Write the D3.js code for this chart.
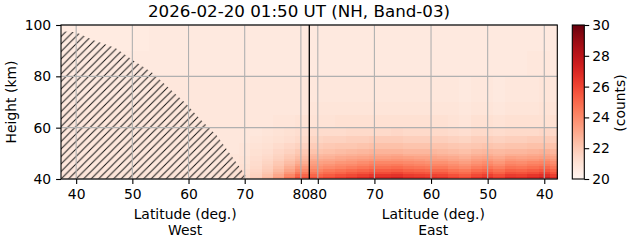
<!DOCTYPE html>
<html>
<head>
<meta charset="utf-8">
<script src="https://cdn.jsdelivr.net/npm/d3@7/dist/d3.min.js"></script>
<style>
  body { margin: 0; background: #fff; }
  text { font-family: "DejaVu Sans", sans-serif; fill: #000; }
</style>
</head>
<body>
<svg id="chart" width="631" height="243"></svg>
<script>
// latitude bin edges, left to right on the plot
const latEdgesWest = [37.3, 39, 41, 43, 45, 47, 49, 51, 53, 55, 57, 59, 61, 63, 65, 67, 69, 71, 73, 75, 77, 79, 81.5]
const latEdgesEast = [81.5, 79, 77, 75, 73, 71, 69, 67, 65, 63, 61, 59, 57, 55, 53, 51, 49, 47, 45, 43, 41, 39, 37.7]
// height bin edges (km), bottom to top
const heightEdges = [40, 41, 42, 43, 44, 45, 46, 47, 48, 49, 50, 52, 54, 57, 60, 65, 70, 80, 90, 100]

// counts per height row (bottom first), one value per latitude bin
const countsWest = [
  [20.9, 20.9, 20.9, 20.9, 20.9, 20.9, 20.9, 20.9, 20.9, 20.9, 20.9, 20.9, 20.9, 20.9, 21.0, 21.1, 21.4, 21.9, 22.6, 23.5, 24.7, 25.8],
  [20.9, 20.9, 20.9, 20.9, 20.9, 20.9, 20.9, 20.9, 20.9, 20.9, 20.9, 20.9, 20.9, 20.9, 21.0, 21.1, 21.3, 21.7, 22.3, 23.1, 24.1, 25.1],
  [20.9, 20.9, 20.9, 20.9, 20.9, 20.9, 20.9, 20.9, 20.9, 20.9, 20.9, 20.9, 20.9, 20.9, 20.9, 21.0, 21.2, 21.6, 22.1, 22.8, 23.6, 24.5],
  [20.8, 20.8, 20.8, 20.8, 20.8, 20.8, 20.8, 20.8, 20.8, 20.8, 20.8, 20.8, 20.8, 20.8, 20.9, 21.0, 21.2, 21.5, 21.9, 22.5, 23.2, 24.0],
  [20.8, 20.8, 20.8, 20.8, 20.8, 20.8, 20.8, 20.8, 20.8, 20.8, 20.8, 20.8, 20.8, 20.8, 20.9, 21.0, 21.1, 21.4, 21.8, 22.3, 22.9, 23.6],
  [20.8, 20.8, 20.8, 20.8, 20.8, 20.8, 20.8, 20.8, 20.8, 20.8, 20.8, 20.8, 20.8, 20.8, 20.9, 20.9, 21.1, 21.3, 21.7, 22.1, 22.6, 23.2],
  [20.8, 20.8, 20.8, 20.8, 20.8, 20.8, 20.8, 20.8, 20.8, 20.8, 20.8, 20.8, 20.8, 20.8, 20.8, 20.9, 21.0, 21.3, 21.6, 22.0, 22.4, 22.9],
  [20.8, 20.8, 20.8, 20.8, 20.8, 20.8, 20.8, 20.8, 20.8, 20.8, 20.8, 20.8, 20.8, 20.8, 20.8, 20.9, 21.0, 21.2, 21.5, 21.8, 22.2, 22.6],
  [20.8, 20.8, 20.8, 20.8, 20.8, 20.8, 20.8, 20.8, 20.8, 20.8, 20.8, 20.8, 20.8, 20.8, 20.8, 20.9, 21.0, 21.2, 21.4, 21.7, 22.0, 22.4],
  [20.8, 20.8, 20.8, 20.8, 20.8, 20.8, 20.8, 20.8, 20.8, 20.8, 20.8, 20.8, 20.8, 20.8, 20.8, 20.9, 20.9, 21.1, 21.3, 21.6, 21.9, 22.2],
  [20.8, 20.8, 20.8, 20.8, 20.8, 20.8, 20.8, 20.8, 20.8, 20.8, 20.8, 20.8, 20.8, 20.8, 20.8, 20.8, 20.9, 21.1, 21.2, 21.5, 21.7, 22.0],
  [20.8, 20.8, 20.8, 20.8, 20.8, 20.8, 20.8, 20.8, 20.8, 20.8, 20.8, 20.8, 20.8, 20.8, 20.8, 20.8, 20.9, 21.0, 21.1, 21.3, 21.5, 21.7],
  [20.8, 20.8, 20.8, 20.8, 20.8, 20.8, 20.8, 20.8, 20.8, 20.8, 20.8, 20.8, 20.8, 20.8, 20.8, 20.8, 20.8, 20.9, 21.0, 21.1, 21.2, 21.4],
  [20.8, 20.8, 20.8, 20.8, 20.8, 20.8, 20.8, 20.8, 20.8, 20.8, 20.8, 20.8, 20.8, 20.8, 20.8, 20.8, 20.8, 20.8, 20.9, 21.0, 21.1, 21.2],
  [20.8, 20.8, 20.8, 20.8, 20.8, 20.8, 20.8, 20.8, 20.8, 20.8, 20.8, 20.8, 20.8, 20.8, 20.8, 20.8, 20.8, 20.8, 20.8, 20.9, 20.9, 21.0],
  [20.8, 20.8, 20.8, 20.8, 20.8, 20.8, 20.8, 20.8, 20.8, 20.8, 20.8, 20.8, 20.8, 20.8, 20.8, 20.8, 20.8, 20.8, 20.8, 20.8, 20.8, 20.8],
  [20.7, 20.7, 20.7, 20.7, 20.7, 20.7, 20.7, 20.7, 20.8, 20.8, 20.8, 20.8, 20.8, 20.8, 20.8, 20.8, 20.8, 20.8, 20.8, 20.8, 20.8, 20.8],
  [20.7, 20.7, 20.7, 20.7, 20.7, 20.7, 20.7, 20.7, 20.7, 20.7, 20.7, 20.7, 20.7, 20.7, 20.7, 20.7, 20.7, 20.7, 20.7, 20.7, 20.7, 20.7],
  [20.6, 20.6, 20.6, 20.6, 20.6, 20.6, 20.6, 20.6, 20.7, 20.7, 20.7, 20.7, 20.7, 20.7, 20.7, 20.7, 20.7, 20.7, 20.7, 20.7, 20.7, 20.7]
]

const countsEast = [
  [25.8, 26.1, 26.4, 26.7, 27.0, 27.3, 27.3, 27.5, 27.1, 27.0, 26.9, 26.8, 26.4, 26.1, 26.7, 27.0, 26.5, 27.1, 27.0, 27.3, 27.6, 27.0],
  [25.1, 25.4, 25.7, 25.9, 26.2, 26.5, 26.5, 26.6, 26.3, 26.2, 26.1, 26.0, 25.7, 25.4, 25.9, 26.2, 25.8, 26.3, 26.2, 26.5, 26.7, 26.2],
  [24.6, 24.9, 25.1, 25.4, 25.6, 25.8, 25.8, 26.0, 25.7, 25.6, 25.5, 25.5, 25.1, 24.9, 25.4, 25.6, 25.2, 25.7, 25.6, 25.8, 26.1, 25.6],
  [24.2, 24.5, 24.7, 24.9, 25.1, 25.3, 25.3, 25.4, 25.2, 25.1, 25.0, 25.0, 24.7, 24.5, 24.9, 25.1, 24.8, 25.2, 25.1, 25.3, 25.5, 25.1],
  [23.8, 24.0, 24.2, 24.4, 24.6, 24.8, 24.8, 24.9, 24.7, 24.6, 24.5, 24.5, 24.2, 24.0, 24.4, 24.6, 24.3, 24.7, 24.6, 24.8, 25.0, 24.6],
  [23.5, 23.7, 23.9, 24.0, 24.2, 24.4, 24.4, 24.5, 24.3, 24.2, 24.1, 24.1, 23.9, 23.7, 24.0, 24.2, 23.9, 24.3, 24.2, 24.4, 24.5, 24.2],
  [23.3, 23.4, 23.6, 23.7, 23.9, 24.1, 24.1, 24.1, 24.0, 23.9, 23.8, 23.8, 23.6, 23.4, 23.7, 23.9, 23.6, 24.0, 23.9, 24.1, 24.2, 23.9],
  [23.0, 23.1, 23.2, 23.4, 23.5, 23.6, 23.6, 23.7, 23.6, 23.5, 23.4, 23.4, 23.2, 23.1, 23.4, 23.5, 23.3, 23.6, 23.5, 23.6, 23.8, 23.5],
  [22.7, 22.8, 23.0, 23.1, 23.2, 23.3, 23.3, 23.4, 23.3, 23.2, 23.2, 23.1, 23.0, 22.8, 23.1, 23.2, 23.0, 23.3, 23.2, 23.3, 23.4, 23.2],
  [22.5, 22.6, 22.7, 22.8, 22.9, 23.0, 23.0, 23.1, 22.9, 22.9, 22.9, 22.8, 22.7, 22.6, 22.8, 22.9, 22.7, 22.9, 22.9, 23.0, 23.1, 22.9],
  [22.2, 22.3, 22.4, 22.5, 22.6, 22.7, 22.7, 22.7, 22.6, 22.6, 22.6, 22.5, 22.4, 22.3, 22.5, 22.6, 22.5, 22.6, 22.6, 22.7, 22.8, 22.6],
  [21.9, 22.0, 22.1, 22.1, 22.2, 22.3, 22.3, 22.3, 22.2, 22.2, 22.2, 22.2, 22.1, 22.0, 22.1, 22.2, 22.1, 22.2, 22.2, 22.3, 22.3, 22.2],
  [21.6, 21.7, 21.7, 21.8, 21.8, 21.9, 21.9, 21.9, 21.8, 21.8, 21.8, 21.8, 21.7, 21.6, 21.8, 21.8, 21.7, 21.8, 21.8, 21.9, 21.9, 21.8],
  [21.3, 21.3, 21.3, 21.4, 21.4, 21.4, 21.4, 21.5, 21.4, 21.4, 21.4, 21.4, 21.3, 21.2, 21.4, 21.4, 21.3, 21.4, 21.4, 21.4, 21.5, 21.4],
  [21.0, 21.0, 21.1, 21.1, 21.1, 21.1, 21.1, 21.1, 21.1, 21.1, 21.1, 21.1, 21.0, 20.9, 21.1, 21.1, 21.0, 21.1, 21.1, 21.1, 21.1, 21.1],
  [20.9, 20.9, 20.9, 20.9, 20.9, 20.9, 20.9, 20.9, 20.9, 20.9, 20.9, 20.9, 20.9, 20.8, 20.9, 20.9, 20.8, 20.9, 20.9, 20.9, 21.0, 20.9],
  [20.8, 20.8, 20.8, 20.8, 20.8, 20.8, 20.8, 20.8, 20.8, 20.8, 20.8, 20.8, 20.8, 20.7, 20.8, 20.8, 20.7, 20.8, 20.8, 20.8, 20.9, 20.8],
  [20.7, 20.7, 20.7, 20.7, 20.7, 20.7, 20.7, 20.7, 20.7, 20.7, 20.7, 20.7, 20.7, 20.7, 20.7, 20.7, 20.7, 20.7, 20.7, 20.8, 20.8, 20.7],
  [20.7, 20.7, 20.7, 20.7, 20.7, 20.7, 20.7, 20.7, 20.7, 20.7, 20.7, 20.7, 20.7, 20.7, 20.7, 20.7, 20.7, 20.7, 20.7, 20.7, 20.7, 20.7]
]

// upper edge of the hatched (no data) region on the west side
const hatchLat = [37.3, 40, 43, 47, 50, 53.5, 57, 59.5, 62, 65, 68, 70.6]
const hatchTop = [97.6, 97.2, 94.2, 91, 86.5, 81.5, 74.5, 69.5, 63.5, 57, 48, 40]

const poleLat = 81.5
const latTicks = [40, 50, 60, 70, 80]
const heightTicks = [40, 60, 80, 100]
const countTicks = [20, 22, 24, 26, 28, 30]

const svg = d3.select('#chart')
const plotL = 61, plotR = 557.3, plotT = 25, plotB = 179
const poleX = 309.3
const fs = '13.9px'

const xWest = d3.scaleLinear().domain([37.3, poleLat]).range([plotL, poleX])
const xEast = d3.scaleLinear().domain([poleLat, 37.7]).range([poleX, plotR])
const y = d3.scaleLinear().domain([40, 100]).range([plotB, plotT])
const color = d3.scaleSequential(d3.interpolateReds).domain([20, 30])

svg.append('rect').attr('width', 631).attr('height', 243).attr('fill', '#fff')

// heatmap cells
function cells(edges, rows, x) {
  const out = []
  rows.forEach((row, i) => {
    row.forEach((v, j) => {
      out.push({ x0: x(edges[j]), x1: x(edges[j + 1]), h0: heightEdges[i], h1: heightEdges[i + 1], v })
    })
  })
  return out
}
const allCells = cells(latEdgesWest, countsWest, xWest).concat(cells(latEdgesEast, countsEast, xEast))

svg.append('g')
  .selectAll('rect')
  .data(allCells)
  .join('rect')
  .attr('x', d => Math.min(d.x0, d.x1))
  .attr('width', d => Math.abs(d.x1 - d.x0) + 0.3)
  .attr('y', d => y(d.h1))
  .attr('height', d => y(d.h0) - y(d.h1) + 0.3)
  .attr('fill', d => color(d.v))
  .attr('shape-rendering', 'crispEdges')

// hatch pattern
const defs = svg.append('defs')
const hw = 7.5
defs.append('pattern')
  .attr('id', 'hatch')
  .attr('patternUnits', 'userSpaceOnUse')
  .attr('width', hw)
  .attr('height', hw)
  .append('path')
  .attr('d', `M0,${hw}L${hw},0M${-hw / 2},${hw / 2}L${hw / 2},${-hw / 2}M${hw / 2},${hw * 1.5}L${hw * 1.5},${hw / 2}`)
  .attr('stroke', '#111')
  .attr('stroke-width', 0.95)

defs.append('clipPath').attr('id', 'plotclip')
  .append('rect').attr('x', plotL).attr('y', plotT).attr('width', plotR - plotL).attr('height', plotB - plotT)

const hatchArea = d3.area()
  .x(d => xWest(d[0]))
  .y0(y(40))
  .y1(d => y(d[1]))

svg.append('path')
  .datum(d3.zip(hatchLat, hatchTop))
  .attr('d', hatchArea)
  .attr('fill', 'url(#hatch)')
  .attr('clip-path', 'url(#plotclip)')

// grid
const grid = svg.append('g').attr('stroke', '#b0b0b0').attr('stroke-width', 1.1)
latTicks.forEach(t => {
  ;[xWest(t), xEast(t)].forEach(gx => {
    grid.append('line').attr('x1', gx).attr('x2', gx).attr('y1', plotT).attr('y2', plotB)
  })
})
heightTicks.forEach(t => {
  grid.append('line').attr('x1', plotL).attr('x2', plotR).attr('y1', y(t)).attr('y2', y(t))
})

// pole line
svg.append('line')
  .attr('x1', poleX).attr('x2', poleX).attr('y1', plotT).attr('y2', plotB)
  .attr('stroke', '#000').attr('stroke-width', 1.3)

// frame
svg.append('rect')
  .attr('x', plotL).attr('y', plotT).attr('width', plotR - plotL).attr('height', plotB - plotT)
  .attr('fill', 'none').attr('stroke', '#000').attr('stroke-width', 1.1)

function styleAxis(g) {
  g.select('.domain').remove()
  g.selectAll('.tick line').attr('stroke', '#000').attr('stroke-width', 1.1)
  g.selectAll('.tick text').attr('font-size', fs).attr('font-family', '"DejaVu Sans", sans-serif').attr('fill', '#000')
}

svg.append('g')
  .attr('transform', `translate(0,${plotB})`)
  .call(d3.axisBottom(xWest).tickValues(latTicks).tickSize(4.9).tickPadding(4.9).tickFormat(d3.format('d')))
  .call(styleAxis)

svg.append('g')
  .attr('transform', `translate(0,${plotB})`)
  .call(d3.axisBottom(xEast).tickValues(latTicks).tickSize(4.9).tickPadding(4.9).tickFormat(d3.format('d')))
  .call(styleAxis)

svg.append('g')
  .attr('transform', `translate(${plotL},0)`)
  .call(d3.axisLeft(y).tickValues(heightTicks).tickSize(4.9).tickPadding(4.9))
  .call(styleAxis)

// axis labels
const westMid = (plotL + poleX) / 2
const eastMid = (poleX + plotR) / 2
;[[westMid, 'West'], [eastMid, 'East']].forEach(([cx, side]) => {
  svg.append('text').attr('x', cx).attr('y', 218.5).attr('text-anchor', 'middle').attr('font-size', fs).text('Latitude (deg.)')
  svg.append('text').attr('x', cx).attr('y', 234.5).attr('text-anchor', 'middle').attr('font-size', fs).text(side)
})

svg.append('text')
  .attr('transform', `translate(16,${(plotT + plotB) / 2}) rotate(-90)`)
  .attr('text-anchor', 'middle').attr('font-size', fs)
  .text('Height (km)')

svg.append('text')
  .attr('x', 299).attr('y', 17.3)
  .attr('text-anchor', 'middle').attr('font-size', '16.7px')
  .text('2026-02-20 01:50 UT (NH, Band-03)')

// colorbar
const cbX = 572.3, cbW = 12
const cy = d3.scaleLinear().domain([20, 30]).range([plotB, plotT])
const grad = defs.append('linearGradient').attr('id', 'cbgrad')
  .attr('x1', 0).attr('x2', 0).attr('y1', 1).attr('y2', 0)
d3.range(0, 1.0001, 0.05).forEach(t => {
  grad.append('stop').attr('offset', t).attr('stop-color', d3.interpolateReds(t))
})
svg.append('rect')
  .attr('x', cbX).attr('y', plotT).attr('width', cbW).attr('height', plotB - plotT)
  .attr('fill', 'url(#cbgrad)')
svg.append('rect')
  .attr('x', cbX).attr('y', plotT).attr('width', cbW).attr('height', plotB - plotT)
  .attr('fill', 'none').attr('stroke', '#000').attr('stroke-width', 1.1)

svg.append('g')
  .attr('transform', `translate(${cbX + cbW},0)`)
  .call(d3.axisRight(cy).tickValues(countTicks).tickSize(4.9).tickPadding(3))
  .call(styleAxis)

svg.append('text')
  .attr('transform', `translate(625,103) rotate(-90)`)
  .attr('text-anchor', 'middle').attr('font-size', fs)
  .text('(counts)')
</script>
</body>
</html>
